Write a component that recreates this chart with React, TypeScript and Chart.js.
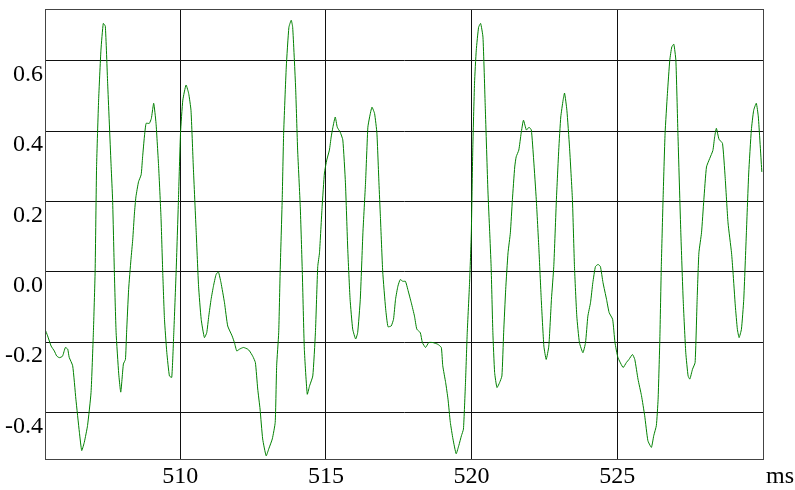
import React, { useEffect, useRef } from "react";
import { Chart, registerables } from "chart.js";

Chart.register(...registerables);

const timeMs: number[] = [
  505.36,505.45,505.57,505.68,505.76,505.85,505.96,506.06,506.14,506.19,
  506.31,506.42,506.54,506.62,506.71,506.82,506.94,507.02,507.08,507.13,
  507.20,507.28,507.36,507.43,507.51,507.63,507.68,507.74,507.80,507.89,
  507.96,508.05,508.12,508.16,508.23,508.31,508.37,508.43,508.48,508.57,
  508.66,508.71,508.77,508.83,508.94,509.01,509.09,509.17,509.26,509.34,
  509.40,509.46,509.54,509.63,509.71,509.78,509.86,509.94,510.01,510.09,
  510.20,510.29,510.37,510.45,510.55,510.63,510.72,510.83,510.91,510.98,
  511.06,511.14,511.23,511.31,511.40,511.52,511.63,511.78,511.86,511.94,
  512.03,512.17,512.32,512.38,512.49,512.58,512.66,512.74,512.83,512.95,
  513.04,513.16,513.26,513.31,513.38,513.43,513.50,513.55,513.64,513.73,
  513.81,513.86,513.96,514.03,514.12,514.19,514.26,514.36,514.44,514.55,
  514.64,514.72,514.78,514.87,514.95,515.03,515.12,515.18,515.24,515.32,
  515.39,515.49,515.58,515.67,515.75,515.83,515.92,516.02,516.09,516.18,
  516.27,516.36,516.44,516.50,516.58,516.67,516.75,516.82,516.87,516.95,
  517.05,517.13,517.24,517.32,517.39,517.47,517.55,517.64,517.73,517.81,
  517.93,518.04,518.12,518.24,518.31,518.42,518.53,518.67,518.84,518.96,
  519.01,519.11,519.19,519.27,519.36,519.47,519.56,519.65,519.72,519.79,
  519.85,519.93,519.99,520.04,520.10,520.16,520.24,520.31,520.39,520.47,
  520.56,520.62,520.67,520.73,520.79,520.87,520.96,521.04,521.10,521.17,
  521.25,521.33,521.40,521.48,521.53,521.62,521.70,521.78,521.88,521.97,
  522.05,522.13,522.22,522.31,522.39,522.48,522.56,522.65,522.74,522.82,
  522.91,522.99,523.06,523.14,523.19,523.27,523.36,523.46,523.53,523.61,
  523.70,523.82,523.91,523.99,524.08,524.16,524.25,524.34,524.42,524.51,
  524.63,524.72,524.84,524.92,525.02,525.20,525.31,525.40,525.52,525.60,
  525.71,525.83,525.94,526.05,526.17,526.25,526.34,526.40,526.46,526.51,
  526.57,526.64,526.72,526.80,526.87,526.94,527.01,527.08,527.18,527.26,
  527.35,527.43,527.49,527.58,527.67,527.74,527.80,527.89,527.97,528.06,
  528.17,528.28,528.34,528.40,528.49,528.61,528.70,528.80,528.92,528.97,
  529.05,529.12,529.18,529.26,529.34,529.43,529.51,529.60,529.68,529.77,
  529.84,529.96,
];

const amplitude: number[] = [
  -0.163,-0.182,-0.211,-0.225,-0.239,-0.244,-0.240,-0.215,-0.220,-0.243,
  -0.267,-0.362,-0.456,-0.508,-0.484,-0.437,-0.343,-0.173,0.000,0.299,
  0.488,0.630,0.706,0.698,0.536,0.299,0.205,0.000,-0.172,-0.290,
  -0.342,-0.262,-0.249,-0.173,-0.050,0.035,0.091,0.167,0.213,0.256,
  0.276,0.327,0.383,0.422,0.422,0.436,0.479,0.422,0.298,0.157,
  0.000,-0.135,-0.229,-0.296,-0.300,-0.173,0.000,0.205,0.394,0.488,
  0.531,0.507,0.459,0.298,0.111,-0.041,-0.135,-0.187,-0.173,-0.126,
  -0.078,-0.041,-0.008,0.000,-0.031,-0.088,-0.154,-0.182,-0.201,-0.225,
  -0.220,-0.215,-0.220,-0.225,-0.240,-0.258,-0.333,-0.390,-0.475,-0.523,
  -0.503,-0.475,-0.428,-0.267,-0.173,0.000,0.205,0.394,0.582,0.695,
  0.715,0.695,0.525,0.346,0.185,0.000,-0.220,-0.348,-0.324,-0.296,
  -0.173,0.015,0.054,0.185,0.281,0.318,0.346,0.383,0.411,0.440,
  0.411,0.397,0.375,0.253,0.064,-0.078,-0.163,-0.191,-0.173,-0.078,
  0.111,0.253,0.411,0.440,0.468,0.450,0.394,0.253,0.157,0.000,
  -0.105,-0.156,-0.154,-0.135,-0.078,-0.041,-0.022,-0.027,-0.027,-0.050,
  -0.088,-0.126,-0.163,-0.173,-0.201,-0.215,-0.201,-0.201,-0.206,-0.215,
  -0.267,-0.315,-0.362,-0.428,-0.475,-0.517,-0.494,-0.466,-0.447,-0.315,
  -0.173,-0.031,0.111,0.346,0.536,0.630,0.695,0.706,0.667,0.465,
  0.230,0.115,0.015,-0.173,-0.286,-0.329,-0.315,-0.296,-0.173,-0.050,
  0.054,0.111,0.205,0.298,0.327,0.346,0.394,0.431,0.403,0.411,
  0.403,0.318,0.205,0.064,-0.078,-0.211,-0.249,-0.211,-0.078,0.015,
  0.205,0.346,0.440,0.488,0.508,0.459,0.355,0.205,0.015,-0.126,
  -0.201,-0.230,-0.201,-0.126,-0.088,-0.031,0.015,0.021,0.015,-0.031,
  -0.078,-0.116,-0.135,-0.201,-0.243,-0.272,-0.258,-0.249,-0.235,-0.249,
  -0.305,-0.352,-0.409,-0.480,-0.499,-0.466,-0.437,-0.362,-0.191,0.015,
  0.205,0.394,0.507,0.601,0.639,0.647,0.601,0.394,0.111,-0.078,
  -0.230,-0.296,-0.305,-0.277,-0.258,-0.078,0.054,0.111,0.205,0.298,
  0.322,0.345,0.383,0.408,0.377,0.365,0.270,0.139,0.054,0.000,
  -0.097,-0.163,-0.187,-0.163,-0.078,0.111,0.281,0.403,0.459,0.479,
  0.440,0.284,
];

const xTicks: number[] = [510, 515, 520, 525];
const yTicks: number[] = [-0.4, -0.2, 0.0, 0.2, 0.4, 0.6];
const xRange: number[] = [505.36, 530.0];
const yRange: number[] = [-0.532, 0.747];
const xUnit = "ms";

const FONT = "'Liberation Serif', 'Times New Roman', serif";

export default function App() {
  const ref = useRef<HTMLCanvasElement | null>(null);

  useEffect(() => {
    const canvas = ref.current;
    if (!canvas) return;
    const n = Math.min(timeMs.length, amplitude.length);
    const pts = [] as { x: number; y: number }[];
    for (let i = 0; i < n; i++) pts.push({ x: timeMs[i], y: amplitude[i] });

    const framePlugin = {
      id: "frameAndUnit",
      afterDraw(chart: any) {
        const { ctx, chartArea } = chart;
        ctx.save();
        ctx.strokeStyle = "#444";
        ctx.lineWidth = 1;
        ctx.strokeRect(
          Math.round(chartArea.left) + 0.5,
          Math.round(chartArea.top) + 0.5,
          Math.round(chartArea.right - chartArea.left),
          Math.round(chartArea.bottom - chartArea.top)
        );
        ctx.fillStyle = "#000";
        ctx.font = "24px " + FONT;
        ctx.textAlign = "left";
        ctx.textBaseline = "alphabetic";
        ctx.fillText(xUnit, chartArea.right + 3, chartArea.bottom + 24);
        ctx.restore();
      },
    };

    const chart = new Chart(canvas, {
      type: "line",
      data: {
        datasets: [
          {
            data: pts,
            borderColor: "rgb(0,128,0)",
            borderWidth: 1,
            pointRadius: 0,
            tension: 0.15,
            fill: false,
          },
        ],
      },
      options: {
        responsive: false,
        animation: false,
        devicePixelRatio: 1,
        layout: { padding: { top: 9, right: 32, left: 0, bottom: 0 } },
        plugins: {
          legend: { display: false },
          tooltip: { enabled: false },
        },
        scales: {
          x: {
            type: "linear",
            min: xRange[0],
            max: xRange[1],
            afterBuildTicks: (scale: any) => {
              scale.ticks = xTicks.map((v) => ({ value: v }));
            },
            afterFit: (scale: any) => {
              scale.height = 31;
              scale.paddingLeft = 0;
              scale.paddingRight = 0;
            },
            grid: { color: "#111", lineWidth: 1, drawTicks: false },
            border: { color: "#444", width: 1 },
            ticks: {
              color: "#000",
              font: { family: FONT, size: 24 },
              padding: 3,
              maxRotation: 0,
              autoSkip: false,
              callback: (v: any) => String(v),
            },
          },
          y: {
            type: "linear",
            min: yRange[0],
            max: yRange[1],
            afterBuildTicks: (scale: any) => {
              scale.ticks = yTicks.map((v) => ({ value: v }));
            },
            afterFit: (scale: any) => {
              scale.width = 45;
              scale.paddingTop = 0;
              scale.paddingBottom = 0;
            },
            grid: { color: "#111", lineWidth: 1, drawTicks: false },
            border: { color: "#444", width: 1 },
            ticks: {
              color: "#000",
              font: { family: FONT, size: 24 },
              padding: 2,
              labelOffset: 14,
              autoSkip: false,
              callback: (v: any) => Number(v).toFixed(1),
            },
          },
        },
      },
      plugins: [framePlugin],
    } as any);

    return () => chart.destroy();
  }, []);

  return (
    <div style={{ position: "absolute", left: 0, top: 0, width: 795, height: 490, background: "#fff" }}>
      <canvas ref={ref} width={795} height={490} style={{ display: "block", width: 795, height: 490 }} />
    </div>
  );
}
